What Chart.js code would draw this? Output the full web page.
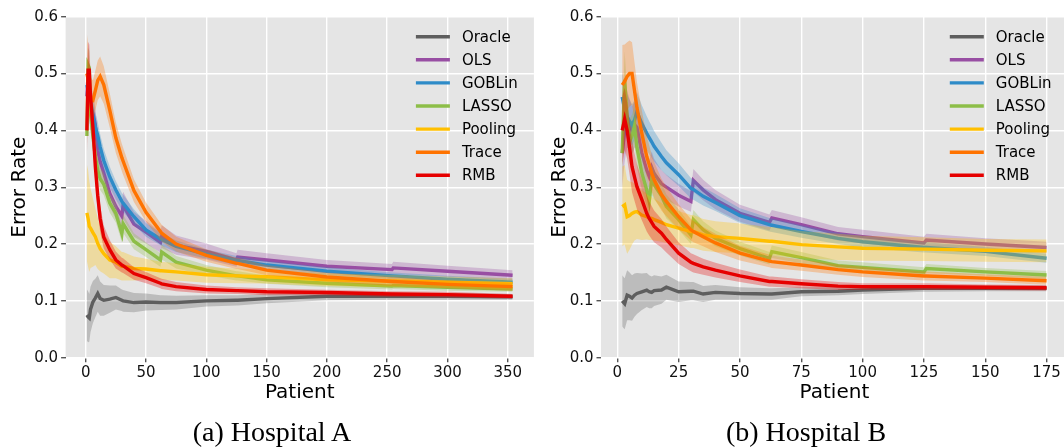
<!DOCTYPE html>
<html>
<head>
<meta charset="utf-8">
<script src="https://cdn.jsdelivr.net/npm/chart.js@4.4.0/dist/chart.umd.min.js"></script>
<style>
  html, body { margin: 0; padding: 0; background: #fff; width: 1064px; height: 448px; overflow: hidden; }
  .wrap { position: absolute; top: 0; height: 448px; }
  #wrapA { left: 0; width: 540px; }
  #wrapB { left: 540px; width: 535px; }
  .caption { position: absolute; top: 416px; line-height: 32px; font-family: "Liberation Serif", serif; font-size: 28px; color: #000; white-space: nowrap; transform: translateX(-50%); }
</style>
</head>
<body>
<div class="wrap" id="wrapA"><canvas id="chartA" width="540" height="448"></canvas></div>
<div class="wrap" id="wrapB"><canvas id="chartB" width="535" height="448"></canvas></div>
<div class="caption" style="left:272px">(a) Hospital A</div>
<div class="caption" style="left:806px">(b) Hospital B</div>
<script>
// nomes e cores das curvas
const nomes = ['Oracle', 'OLS', 'GOBLin', 'LASSO', 'Pooling', 'Trace', 'RMB'];
const cores = ['#5e5e5e', '#984ea3', '#2e8bc8', '#8dbe48', '#ffbf00', '#ff7300', '#e60000'];
const yTicks = [0, 0.1, 0.2, 0.3, 0.4, 0.5, 0.6];
const xTicksA = [0, 50, 100, 150, 200, 250, 300, 350];
const xTicksB = [0, 25, 50, 75, 100, 125, 150, 175];

// Hospital A
const xA = [1, 2, 3, 4, 6, 8, 10, 12, 15, 20, 25, 30, 31, 40, 50, 62, 63, 75, 100, 125, 126, 150, 200, 254, 255, 300, 354];
const oracleA = [0.075, 0.072, 0.070, 0.085, 0.098, 0.105, 0.113, 0.104, 0.101, 0.103, 0.106, 0.101, 0.100, 0.097, 0.098, 0.097, 0.097, 0.097, 0.100, 0.101, 0.101, 0.104, 0.108, 0.108, 0.108, 0.108, 0.107];
const olsA = [0.46, 0.50, 0.46, 0.44, 0.43, 0.41, 0.365, 0.345, 0.325, 0.289, 0.266, 0.249, 0.268, 0.235, 0.221, 0.203, 0.213, 0.198, 0.187, 0.172, 0.177, 0.172, 0.161, 0.155, 0.158, 0.152, 0.145];
const goblinA = [0.48, 0.47, 0.46, 0.453, 0.424, 0.406, 0.391, 0.371, 0.347, 0.318, 0.295, 0.275, 0.272, 0.248, 0.225, 0.209, 0.208, 0.196, 0.1825, 0.171, 0.171, 0.163, 0.152, 0.144, 0.144, 0.138, 0.133];
const lassoA = [0.39, 0.515, 0.51, 0.43, 0.39, 0.354, 0.33, 0.315, 0.305, 0.272, 0.254, 0.218, 0.236, 0.205, 0.19, 0.172, 0.186, 0.168, 0.154, 0.144, 0.144, 0.137, 0.131, 0.126, 0.127, 0.124, 0.121];
const poolingA = [0.255, 0.245, 0.231, 0.228, 0.22, 0.213, 0.201, 0.192, 0.183, 0.172, 0.168, 0.161, 0.161, 0.157, 0.156, 0.153, 0.153, 0.151, 0.146, 0.144, 0.144, 0.1425, 0.137, 0.135, 0.135, 0.133, 0.130];
const traceA = [0.50, 0.49, 0.47, 0.455, 0.453, 0.47, 0.488, 0.495, 0.48, 0.435, 0.387, 0.352, 0.346, 0.294, 0.256, 0.222, 0.219, 0.200, 0.180, 0.166, 0.166, 0.154, 0.142, 0.134, 0.134, 0.129, 0.125];
const rmbA = [0.40, 0.506, 0.506, 0.46, 0.406, 0.336, 0.285, 0.245, 0.212, 0.19, 0.172, 0.163, 0.162, 0.148, 0.141, 0.131, 0.130, 0.125, 0.120, 0.118, 0.118, 0.116, 0.1147, 0.112, 0.112, 0.111, 0.108];
// meia largura das faixas
const oracleA_sd = [0.045, 0.045, 0.042, 0.04, 0.037, 0.034, 0.032, 0.03, 0.027, 0.024, 0.021, 0.019, 0.019, 0.017, 0.015, 0.013, 0.013, 0.012, 0.01, 0.009, 0.009, 0.008, 0.007, 0.006, 0.006, 0.006, 0.005];
const olsA_sd = [0.05, 0.05, 0.045, 0.04, 0.035, 0.03, 0.028, 0.026, 0.025, 0.023, 0.022, 0.021, 0.024, 0.022, 0.02, 0.018, 0.02, 0.017, 0.014, 0.012, 0.013, 0.012, 0.011, 0.01, 0.011, 0.01, 0.009];
const goblinA_sd = [0.035, 0.035, 0.033, 0.03, 0.028, 0.026, 0.024, 0.022, 0.02, 0.018, 0.016, 0.015, 0.015, 0.013, 0.012, 0.011, 0.011, 0.01, 0.008, 0.008, 0.008, 0.007, 0.007, 0.006, 0.006, 0.006, 0.006];
const lassoA_sd = [0.03, 0.03, 0.03, 0.028, 0.026, 0.024, 0.022, 0.02, 0.019, 0.017, 0.016, 0.015, 0.016, 0.014, 0.013, 0.012, 0.013, 0.011, 0.009, 0.008, 0.008, 0.007, 0.007, 0.006, 0.006, 0.006, 0.005];
const poolingA_sd = [0.085, 0.085, 0.08, 0.07, 0.06, 0.05, 0.045, 0.04, 0.035, 0.032, 0.028, 0.025, 0.025, 0.021, 0.018, 0.016, 0.016, 0.015, 0.014, 0.013, 0.013, 0.012, 0.011, 0.011, 0.011, 0.01, 0.01];
const traceA_sd = [0.07, 0.06, 0.045, 0.038, 0.035, 0.035, 0.035, 0.035, 0.033, 0.03, 0.027, 0.024, 0.024, 0.02, 0.017, 0.015, 0.015, 0.013, 0.011, 0.01, 0.01, 0.009, 0.008, 0.008, 0.008, 0.007, 0.007];
const rmbA_sd = [0.05, 0.05, 0.045, 0.04, 0.035, 0.03, 0.027, 0.024, 0.02, 0.017, 0.015, 0.013, 0.013, 0.011, 0.01, 0.009, 0.009, 0.008, 0.007, 0.006, 0.006, 0.006, 0.005, 0.005, 0.005, 0.005, 0.004];

// Hospital B
const xB = [2, 3, 4, 5, 6, 7, 8, 10, 12, 13, 14, 15, 18, 20, 25, 30, 31, 35, 40, 50, 62, 63, 75, 90, 100, 125, 126, 150, 175];
const oracleB = [0.100, 0.095, 0.110, 0.108, 0.105, 0.110, 0.113, 0.116, 0.119, 0.116, 0.115, 0.118, 0.119, 0.124, 0.116, 0.117, 0.117, 0.112, 0.115, 0.113, 0.112, 0.112, 0.116, 0.117, 0.119, 0.122, 0.122, 0.122, 0.122];
const olsB = [0.36, 0.40, 0.42, 0.41, 0.40, 0.41, 0.405, 0.36, 0.33, 0.319, 0.335, 0.324, 0.306, 0.30, 0.286, 0.275, 0.312, 0.295, 0.278, 0.254, 0.238, 0.246, 0.234, 0.218, 0.213, 0.202, 0.207, 0.200, 0.194];
const goblinB = [0.459, 0.436, 0.424, 0.416, 0.41, 0.418, 0.433, 0.412, 0.395, 0.387, 0.38, 0.372, 0.354, 0.343, 0.322, 0.298, 0.296, 0.284, 0.273, 0.25, 0.234, 0.233, 0.222, 0.21, 0.204, 0.194, 0.194, 0.187, 0.175];
const lassoB = [0.36, 0.489, 0.42, 0.38, 0.39, 0.408, 0.37, 0.325, 0.295, 0.275, 0.313, 0.305, 0.285, 0.266, 0.243, 0.216, 0.243, 0.225, 0.21, 0.192, 0.175, 0.1865, 0.176, 0.162, 0.159, 0.151, 0.157, 0.151, 0.1455];
const poolingB = [0.266, 0.269, 0.248, 0.25, 0.254, 0.256, 0.257, 0.251, 0.248, 0.246, 0.245, 0.243, 0.238, 0.234, 0.228, 0.222, 0.222, 0.216, 0.213, 0.21, 0.205, 0.205, 0.199, 0.195, 0.1925, 0.191, 0.191, 0.189, 0.188];
const traceB = [0.48, 0.486, 0.495, 0.5, 0.5, 0.47, 0.44, 0.395, 0.354, 0.34, 0.325, 0.313, 0.287, 0.275, 0.248, 0.225, 0.222, 0.213, 0.202, 0.184, 0.17, 0.169, 0.163, 0.155, 0.151, 0.1437, 0.1437, 0.14, 0.1355];
const rmbB = [0.40, 0.42, 0.40, 0.37, 0.336, 0.318, 0.301, 0.278, 0.254, 0.245, 0.238, 0.231, 0.219, 0.208, 0.184, 0.168, 0.166, 0.16, 0.154, 0.144, 0.134, 0.134, 0.13, 0.126, 0.125, 0.125, 0.125, 0.124, 0.123];
const oracleB_sd = [0.045, 0.045, 0.044, 0.042, 0.04, 0.038, 0.036, 0.032, 0.03, 0.029, 0.028, 0.027, 0.024, 0.022, 0.018, 0.016, 0.016, 0.014, 0.013, 0.011, 0.01, 0.01, 0.008, 0.007, 0.007, 0.006, 0.006, 0.005, 0.005];
const olsB_sd = [0.06, 0.055, 0.05, 0.045, 0.042, 0.04, 0.038, 0.034, 0.03, 0.028, 0.028, 0.026, 0.024, 0.022, 0.02, 0.018, 0.02, 0.018, 0.017, 0.015, 0.014, 0.014, 0.013, 0.012, 0.012, 0.011, 0.011, 0.01, 0.01];
const goblinB_sd = [0.045, 0.042, 0.04, 0.038, 0.036, 0.035, 0.034, 0.032, 0.03, 0.029, 0.028, 0.027, 0.024, 0.022, 0.02, 0.018, 0.018, 0.016, 0.015, 0.013, 0.012, 0.012, 0.011, 0.01, 0.01, 0.009, 0.009, 0.008, 0.008];
const lassoB_sd = [0.05, 0.05, 0.045, 0.04, 0.038, 0.036, 0.034, 0.03, 0.028, 0.027, 0.027, 0.026, 0.023, 0.021, 0.018, 0.016, 0.017, 0.015, 0.014, 0.012, 0.011, 0.011, 0.01, 0.009, 0.009, 0.008, 0.008, 0.007, 0.007];
const poolingB_sd = [0.07, 0.07, 0.065, 0.06, 0.055, 0.05, 0.048, 0.044, 0.04, 0.039, 0.038, 0.037, 0.034, 0.032, 0.03, 0.029, 0.029, 0.028, 0.027, 0.026, 0.025, 0.025, 0.024, 0.023, 0.022, 0.021, 0.021, 0.02, 0.02];
const traceB_sd = [0.07, 0.065, 0.06, 0.058, 0.055, 0.05, 0.045, 0.04, 0.036, 0.034, 0.033, 0.032, 0.028, 0.026, 0.022, 0.019, 0.019, 0.017, 0.016, 0.013, 0.011, 0.011, 0.01, 0.009, 0.009, 0.008, 0.008, 0.007, 0.007];
const rmbB_sd = [0.06, 0.055, 0.05, 0.048, 0.045, 0.042, 0.04, 0.036, 0.032, 0.03, 0.029, 0.028, 0.025, 0.023, 0.019, 0.016, 0.016, 0.014, 0.013, 0.011, 0.009, 0.009, 0.008, 0.007, 0.006, 0.006, 0.006, 0.005, 0.005];

function hexParaRgba(hex, a) {
    const n = parseInt(hex.slice(1), 16);
    return `rgba(${(n >> 16) & 255}, ${(n >> 8) & 255}, ${n & 255}, ${a})`;
}

function montarDatasets(xs, medias, faixas) {
    const ds = [];
    let k = 0;
    medias.forEach((m, s) => {
        const f = faixas[s];
        ds.push({ data: xs.map((x, i) => ({ x: x, y: m[i] - f[i] })), borderWidth: 0, pointRadius: 0, fill: false, order: -(k++) });
        ds.push({ data: xs.map((x, i) => ({ x: x, y: m[i] + f[i] })), borderWidth: 0, pointRadius: 0,
                  fill: '-1', backgroundColor: hexParaRgba(cores[s], 0.3), order: -(k++) });
        ds.push({ label: nomes[s], data: xs.map((x, i) => ({ x: x, y: m[i] })), borderColor: cores[s],
                  borderWidth: 3.4, pointRadius: 0, fill: false, tension: 0, order: -(k++) });
    });
    return ds;
}

// fundo cinza estilo ggplot
const fundoCinza = {
    id: 'fundoCinza',
    beforeDraw(chart) {
        const a = chart.chartArea;
        const ctx = chart.ctx;
        ctx.save();
        ctx.fillStyle = '#e5e5e5';
        ctx.fillRect(a.left, a.top, a.right - a.left, a.bottom - a.top);
        ctx.restore();
    }
};

// legenda dentro da area do grafico
const legendaInterna = {
    id: 'legendaInterna',
    afterDraw(chart) {
        const a = chart.chartArea;
        const ctx = chart.ctx;
        ctx.save();
        ctx.font = '15px "DejaVu Sans"';
        ctx.textBaseline = 'middle';
        nomes.forEach((nome, i) => {
            const y = a.top + 20 + i * 23.1;
            ctx.strokeStyle = cores[i];
            ctx.lineWidth = 3.4;
            ctx.beginPath();
            ctx.moveTo(a.right - 118, y);
            ctx.lineTo(a.right - 84, y);
            ctx.stroke();
            ctx.fillStyle = '#000';
            ctx.fillText(nome, a.right - 72, y + 1);
        });
        ctx.restore();
    }
};

function criarGrafico(id, xs, medias, faixas, xTicks, xMin, xMax, larguraY, padRight) {
    const ctx = document.getElementById(id).getContext('2d');
    return new Chart(ctx, {
        type: 'line',
        data: { datasets: montarDatasets(xs, medias, faixas) },
        plugins: [fundoCinza, legendaInterna],
        options: {
            responsive: false,
            animation: false,
            devicePixelRatio: 1,
            layout: { padding: { left: 0, top: 16.7, right: padRight, bottom: 40.3 } },
            plugins: { legend: { display: false }, tooltip: { enabled: false } },
            scales: {
                x: {
                    type: 'linear',
                    min: xMin,
                    max: xMax,
                    afterBuildTicks: s => { s.ticks = xTicks.map(v => ({ value: v })); },
                    afterFit: s => { s.height = 50; },
                    grid: { color: '#ffffff', lineWidth: 1.4, tickColor: '#555', tickLength: 4.5 },
                    border: { display: false },
                    ticks: { font: { family: 'DejaVu Sans', size: 15 }, color: '#111', padding: 2, maxRotation: 0 },
                    title: { display: true, text: 'Patient', font: { family: 'DejaVu Sans', size: 20 }, color: '#000', padding: { top: 0, bottom: 3 } }
                },
                y: {
                    min: 0,
                    max: 0.6,
                    afterBuildTicks: s => { s.ticks = yTicks.map(v => ({ value: v })); },
                    afterFit: s => { s.width = larguraY; },
                    grid: { color: '#ffffff', lineWidth: 1.4, tickColor: '#555', tickLength: 4.5 },
                    border: { display: false },
                    ticks: { font: { family: 'DejaVu Sans', size: 15 }, color: '#111', padding: 3, callback: v => v.toFixed(1) },
                    title: { display: true, text: 'Error Rate', font: { family: 'DejaVu Sans', size: 20 }, color: '#000', padding: { top: 8, bottom: 0 } }
                }
            }
        }
    });
}

criarGrafico('chartA', xA,
    [oracleA, olsA, goblinA, lassoA, poolingA, traceA, rmbA],
    [oracleA_sd, olsA_sd, goblinA_sd, lassoA_sd, poolingA_sd, traceA_sd, rmbA_sd],
    xTicksA, -16.65, 371.65, 65.6, 6.1);

criarGrafico('chartB', xB,
    [oracleB, olsB, goblinB, lassoB, poolingB, traceB, rmbB],
    [oracleB_sd, olsB_sd, goblinB_sd, lassoB_sd, poolingB_sd, traceB_sd, rmbB_sd],
    xTicksB, -6.65, 183.65, 61.0, 7.2);
</script>
</body>
</html>
